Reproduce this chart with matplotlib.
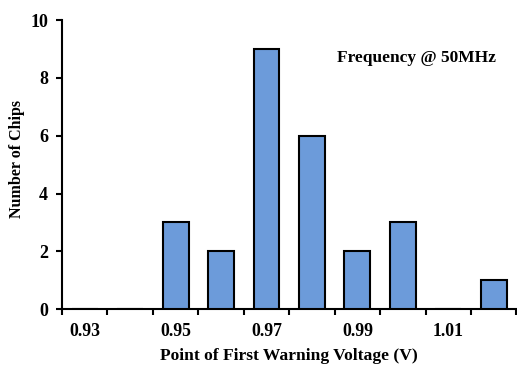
import numpy as np
import matplotlib.pyplot as plt

plt.rcParams['font.family'] = ['Liberation Serif', 'DejaVu Serif']
plt.rcParams['font.weight'] = 'bold'

voltages = ['0.93', '0.94', '0.95', '0.96', '0.97', '0.98', '0.99', '1.00', '1.01', '1.02']
chips = [0, 0, 3, 2, 9, 6, 2, 3, 0, 1]
shown_labels = ['0.93', '0.95', '0.97', '0.99', '1.01']

fig = plt.figure(figsize=(5.17, 3.65), dpi=100)
ax = fig.add_axes([0.12, 0.153, 0.879, 0.792])

x = np.arange(len(voltages))
ax.bar(x, chips, width=0.57, color='#6C9BDA', edgecolor='black', linewidth=1.5, zorder=3)

ax.set_xlim(-0.5, len(voltages) - 0.5)
ax.set_ylim(0, 10)
ax.set_yticks(range(0, 11, 2))

# ticks on category boundaries, labels on every other category centre
ax.set_xticks(np.arange(-0.5, len(voltages), 1.0))
ax.set_xticklabels([])
label_pos = [voltages.index(v) for v in shown_labels]
ax.set_xticks(label_pos, minor=True)
ax.set_xticklabels(shown_labels, minor=True)
ax.tick_params(axis='x', which='minor', length=0, pad=10, labelsize=12.8)
ax.tick_params(axis='x', which='major', direction='out', length=4, width=1.5)
ax.tick_params(axis='y', direction='out', length=4, width=1.5, labelsize=13, pad=6)

for s in ['top', 'right']:
    ax.spines[s].set_visible(False)
for s in ['left', 'bottom']:
    ax.spines[s].set_linewidth(1.5)

ax.set_xlabel('Point of First Warning Voltage (V)', fontsize=12.6, fontweight='bold', labelpad=6)
ax.set_ylabel('Number of Chips', fontsize=11.5, fontweight='bold')
ax.yaxis.set_label_coords(-0.081, 0.52)
ax.text(0.78, 0.868, 'Frequency @ 50MHz', transform=ax.transAxes, ha='center', va='center',
        fontsize=12.5, fontweight='bold')

fig.savefig('out.png', dpi=100)
